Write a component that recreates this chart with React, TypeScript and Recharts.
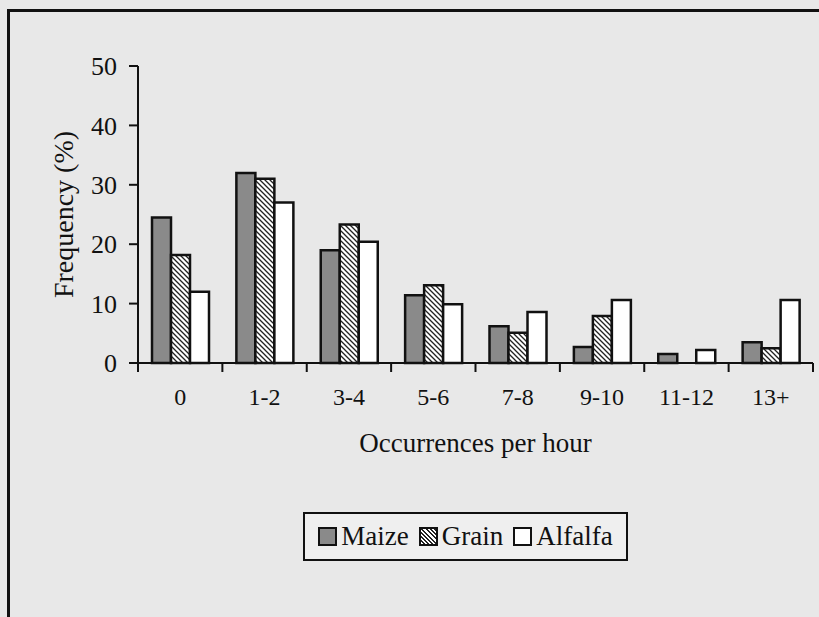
import { Bar, BarChart, Label, XAxis, YAxis } from "recharts";

const categories = ["0", "1-2", "3-4", "5-6", "7-8", "9-10", "11-12", "13+"];
const maize = [24.5, 32, 19, 11.4, 6.2, 2.7, 1.5, 3.5];
const grain = [18.2, 31, 23.3, 13.1, 5.1, 7.9, 0, 2.5];
const alfalfa = [12, 27, 20.4, 9.9, 8.6, 10.6, 2.2, 10.6];
const yTicks = [0, 10, 20, 30, 40, 50];
const seriesNames = ["Maize", "Grain", "Alfalfa"];

const data = categories.map((cat, i) => ({
  cat,
  Maize: maize[i],
  Grain: grain[i],
  Alfalfa: alfalfa[i],
}));

const W = 819;
const H = 617;
const MARGIN = { top: 66, right: 6, left: 0, bottom: 154 };
const Y_AXIS_W = 138;
const PLOT_W = W - MARGIN.left - MARGIN.right - Y_AXIS_W;
const BAND = PLOT_W / categories.length;
const X_TICK_MARGIN = 25;
const FONT = "'Liberation Serif', 'Times New Roman', serif";
const INK = "#111";

// category labels sit mid-band, tick marks sit on the band edges
function XTick(props: any) {
  const { x, y, payload } = props;
  const idx = props.index ?? payload.index;
  const half = BAND / 2;
  const top = y - X_TICK_MARGIN;
  return (
    <g>
      <line x1={x - half} x2={x - half} y1={top} y2={top + 9} stroke={INK} strokeWidth={2} />
      {idx === categories.length - 1 && (
        <line x1={x + half} x2={x + half} y1={top} y2={top + 9} stroke={INK} strokeWidth={2} />
      )}
      <text x={x} y={y} dy="0.71em" textAnchor="middle" fontSize={24} fill={INK} fontFamily={FONT}>
        {payload.value}
      </text>
    </g>
  );
}

function Swatch({ name }: { name: string }) {
  const bg =
    name === "Maize"
      ? "#8a8a8a"
      : name === "Grain"
      ? "repeating-linear-gradient(45deg, #fff 0px, #fff 1.5px, #222 1.5px, #222 3px)"
      : "#fff";
  return (
    <span
      style={{
        display: "inline-block",
        width: 15,
        height: 15,
        border: `2px solid ${INK}`,
        background: bg,
        marginRight: 4,
      }}
    />
  );
}

export default function App() {
  return (
    <div
      style={{
        position: "absolute",
        left: 0,
        top: 0,
        width: W,
        height: H,
        overflow: "hidden",
        background: "#e8e8e8",
        fontFamily: FONT,
      }}
    >
      <div
        style={{
          position: "absolute",
          left: 7,
          top: 9,
          width: W,
          height: H,
          borderLeft: `3px solid ${INK}`,
          borderTop: `3px solid ${INK}`,
        }}
      />
      <div style={{ position: "absolute", left: 0, top: 0 }}>
        <BarChart width={W} height={H} data={data} margin={MARGIN} barGap={0} barCategoryGap={14}>
          <defs>
            <pattern id="hatch" patternUnits="userSpaceOnUse" width={5} height={5}>
              <rect width={5} height={5} fill="#fff" />
              <path d="M-1,-1 L6,6 M-1,4 L1,6 M4,-1 L6,1" stroke="#222" strokeWidth={1.3} />
            </pattern>
          </defs>
          <YAxis
            width={Y_AXIS_W}
            domain={[0, 50]}
            ticks={yTicks}
            interval={0}
            tickSize={9}
            tickMargin={12}
            axisLine={{ stroke: INK, strokeWidth: 2 }}
            tickLine={{ stroke: INK, strokeWidth: 2 }}
            tick={{ fontSize: 26, fill: INK, fontFamily: FONT }}
          >
            <Label
              value="Frequency (%)"
              angle={-90}
              position="insideLeft"
              offset={63}
              style={{ textAnchor: "middle", fontSize: 28, fill: INK, fontFamily: FONT }}
            />
          </YAxis>
          <XAxis
            dataKey="cat"
            height={100}
            interval={0}
            tickSize={0}
            tickMargin={X_TICK_MARGIN}
            tickLine={false}
            axisLine={{ stroke: INK, strokeWidth: 2 }}
            tick={<XTick />}
          >
            <Label
              value="Occurrences per hour"
              position="insideBottom"
              offset={11}
              style={{ fontSize: 27, fill: INK, fontFamily: FONT }}
            />
          </XAxis>
          <Bar dataKey="Maize" fill="#8a8a8a" stroke={INK} strokeWidth={2.5} isAnimationActive={false} />
          <Bar dataKey="Grain" fill="url(#hatch)" stroke={INK} strokeWidth={2.5} isAnimationActive={false} />
          <Bar dataKey="Alfalfa" fill="#fff" stroke={INK} strokeWidth={2.5} isAnimationActive={false} />
        </BarChart>
      </div>
      <div
        style={{
          position: "absolute",
          left: 303,
          top: 512,
          width: 325,
          height: 49,
          boxSizing: "border-box",
          border: `2px solid ${INK}`,
          background: "#efefef",
          display: "flex",
          alignItems: "center",
          justifyContent: "center",
          gap: 10,
          fontSize: 27,
          color: INK,
        }}
      >
        {seriesNames.map((n) => (
          <span key={n} style={{ display: "inline-flex", alignItems: "center" }}>
            <Swatch name={n} />
            {n}
          </span>
        ))}
      </div>
    </div>
  );
}
